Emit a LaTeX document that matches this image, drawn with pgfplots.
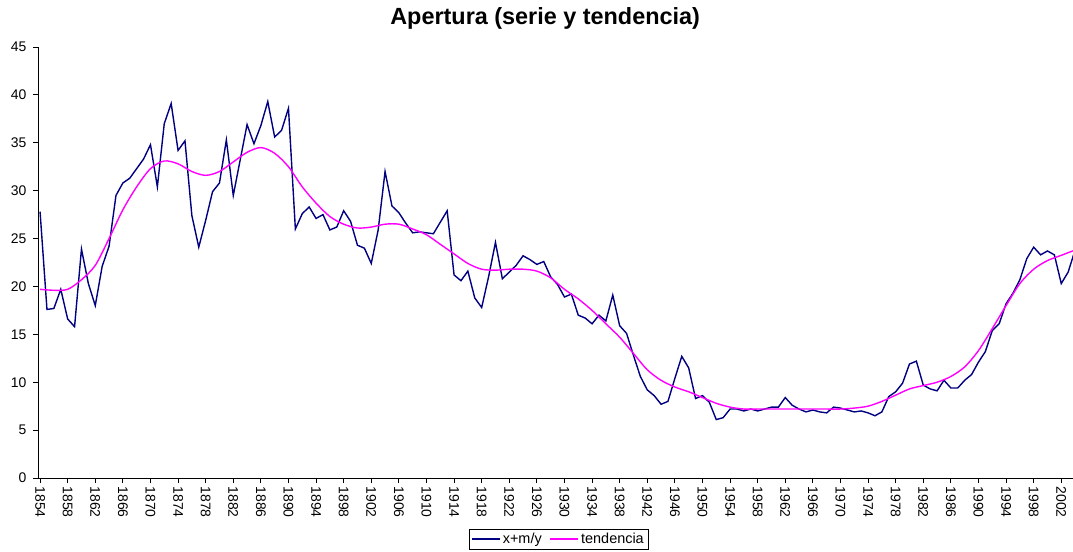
\documentclass[border=0pt]{standalone}
\usepackage{pgfplots}
\pgfplotsset{compat=1.18}
\usepackage{fontspec}
\setmainfont{Liberation Sans}
\definecolor{navy}{RGB}{0,0,128}
\definecolor{mag}{RGB}{255,0,255}
\begin{document}
\begin{tikzpicture}
\begin{axis}[
  at={(0,0)}, anchor=south west,
  scale only axis, width=1035bp, height=431bp,
  xmin=1853.7, xmax=2003.7, ymin=0, ymax=45,
  axis x line*=bottom, axis y line*=left,
  axis line style={black, line width=0.8bp},
  xtick={1854,1858,...,2002},
  minor x tick num=3,
  ytick={0,5,...,45},
  tick align=outside,
  tick style={black, line width=0.8bp},
  major tick length=5bp, minor tick length=5bp,
  /pgf/number format/1000 sep={},
  /pgf/number format/assume math mode=true,
  x tick label style={rotate=-90, anchor=west, font=\fontsize{14}{16}\selectfont},
  y tick label style={font=\fontsize{14}{16}\selectfont, xshift=-3bp},
  title={Apertura (serie y tendencia)},
  title style={at={(0.49,1)}, anchor=base, yshift=17bp, font=\bfseries\fontsize{23.5}{28}\selectfont},
  legend columns=2,
  legend style={at={(0.503,0)}, anchor=north, yshift=-51bp, draw=black, font=\fontsize{14.5}{17}\selectfont, inner sep=2bp,
    /tikz/every even column/.append style={column sep=6bp}},
  legend image code/.code={\draw[#1] (0bp,0bp) -- (28bp,0bp);},
]
\addplot[navy, line width=1.4bp] coordinates {
(1854,27.8)(1855,17.6)(1856,17.7)(1857,19.7)(1858,16.6)(1859,15.8)(1860,23.9)(1861,20.3)(1862,18.0)(1863,22.1)
(1864,24.2)(1865,29.5)(1866,30.8)(1867,31.3)(1868,32.3)(1869,33.3)(1870,34.8)(1871,30.4)(1872,37.0)(1873,39.1)
(1874,34.2)(1875,35.2)(1876,27.4)(1877,24.1)(1878,26.9)(1879,29.9)(1880,30.8)(1881,35.3)(1882,29.5)(1883,33.2)
(1884,36.9)(1885,34.9)(1886,36.8)(1887,39.3)(1888,35.6)(1889,36.3)(1890,38.6)(1891,26.0)(1892,27.6)(1893,28.3)
(1894,27.1)(1895,27.5)(1896,25.9)(1897,26.2)(1898,27.9)(1899,26.8)(1900,24.3)(1901,24.0)(1902,22.4)(1903,25.9)
(1904,32.0)(1905,28.4)(1906,27.7)(1907,26.6)(1908,25.6)(1909,25.7)(1910,25.6)(1911,25.5)(1912,26.7)(1913,27.9)
(1914,21.2)(1915,20.6)(1916,21.6)(1917,18.8)(1918,17.8)(1919,21.0)(1920,24.6)(1921,20.8)(1922,21.5)(1923,22.2)
(1924,23.2)(1925,22.8)(1926,22.3)(1927,22.6)(1928,21.0)(1929,20.2)(1930,18.9)(1931,19.2)(1932,17.0)(1933,16.7)
(1934,16.1)(1935,17.0)(1936,16.4)(1937,19.1)(1938,15.9)(1939,15.1)(1940,12.8)(1941,10.6)(1942,9.2)(1943,8.6)
(1944,7.7)(1945,8.0)(1946,10.4)(1947,12.7)(1948,11.5)(1949,8.3)(1950,8.6)(1951,7.9)(1952,6.1)(1953,6.3)
(1954,7.2)(1955,7.2)(1956,7.0)(1957,7.2)(1958,7.0)(1959,7.2)(1960,7.4)(1961,7.4)(1962,8.4)(1963,7.6)
(1964,7.2)(1965,6.9)(1966,7.1)(1967,6.9)(1968,6.8)(1969,7.4)(1970,7.3)(1971,7.1)(1972,6.9)(1973,7.0)
(1974,6.8)(1975,6.5)(1976,6.9)(1977,8.5)(1978,9.0)(1979,9.9)(1980,11.9)(1981,12.2)(1982,9.7)(1983,9.3)
(1984,9.1)(1985,10.2)(1986,9.4)(1987,9.4)(1988,10.2)(1989,10.8)(1990,12.1)(1991,13.2)(1992,15.4)(1993,16.1)
(1994,18.2)(1995,19.3)(1996,20.7)(1997,22.9)(1998,24.1)(1999,23.3)(2000,23.7)(2001,23.3)(2002,20.3)(2003,21.5)
(2004,23.8)
};
\addlegendentry{x+m/y}
\addplot[mag, line width=1.4bp, smooth] coordinates {
(1854,19.7)(1856,19.6)(1858,19.7)(1860,20.7)(1862,22.2)(1864,25.0)(1866,28.0)(1868,30.4)(1870,32.3)(1872,33.1)
(1874,32.8)(1876,32.0)(1878,31.6)(1880,32.0)(1882,33.0)(1884,34.0)(1886,34.5)(1888,33.9)(1890,32.5)(1892,30.4)
(1894,28.7)(1896,27.3)(1898,26.5)(1900,26.1)(1902,26.2)(1904,26.5)(1906,26.5)(1908,26.0)(1910,25.4)(1912,24.4)
(1914,23.4)(1916,22.4)(1918,21.8)(1920,21.7)(1922,21.8)(1924,21.8)(1926,21.6)(1928,20.9)(1930,19.7)(1932,18.7)
(1934,17.5)(1936,16.1)(1938,14.7)(1940,13.0)(1942,11.3)(1944,10.2)(1946,9.5)(1948,9.0)(1950,8.4)(1952,7.8)
(1954,7.4)(1956,7.2)(1958,7.2)(1960,7.2)(1962,7.2)(1964,7.2)(1966,7.2)(1968,7.2)(1970,7.2)(1972,7.3)
(1974,7.5)(1976,8.0)(1978,8.65)(1980,9.3)(1982,9.65)(1984,10.0)(1986,10.6)(1988,11.6)(1990,13.3)(1992,15.6)
(1994,18.0)(1996,20.3)(1998,21.8)(2000,22.7)(2002,23.25)(2004,23.8)
};
\addlegendentry{tendencia}
\end{axis}
\pgfresetboundingbox
\useasboundingbox (-38bp,-74bp) rectangle (1035bp,478bp);
\end{tikzpicture}
\end{document}
